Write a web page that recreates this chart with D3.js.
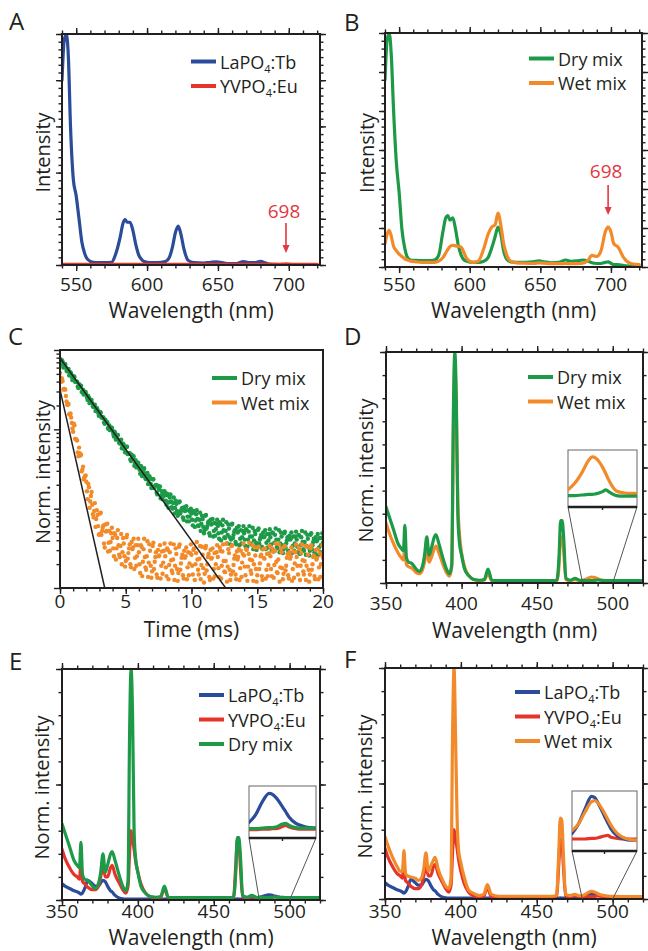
<!DOCTYPE html>
<html>
<head>
<meta charset="utf-8">
<script src="https://cdn.jsdelivr.net/npm/d3@7"></script>
<style>
  body { margin: 0; background: #fff; }
  text { font-family: 'Open Sans', sans-serif; fill: #231f20; }
</style>
</head>
<body>
<script>
// ---- data ----

// emission spectra (panels A, B), normalised intensity
const emWl = [540, 541.5, 543, 544.5, 546, 548, 550, 552, 554, 556,
  558, 562, 566, 570, 575, 578, 581, 583, 584.5, 586,
  588, 590, 592, 594, 596, 598, 602, 606, 610, 613,
  615.5, 618, 620, 622, 624, 626, 629, 633, 640, 645,
  649, 653, 658, 663, 668, 672, 676, 680, 684, 686.5,
  690, 693, 696, 698, 700, 702, 705, 709, 714, 720];
const tbEm = [0.8, 0.97, 1.0, 0.9, 0.6, 0.37, 0.3, 0.2, 0.1, 0.05,
  0.025, 0.012, 0.01, 0.01, 0.012, 0.05, 0.12, 0.18, 0.197, 0.185,
  0.185, 0.15, 0.09, 0.045, 0.025, 0.015, 0.01, 0.01, 0.012, 0.015,
  0.03, 0.08, 0.14, 0.168, 0.13, 0.07, 0.02, 0.01, 0.008, 0.012,
  0.014, 0.01, 0.006, 0.006, 0.015, 0.01, 0.01, 0.016, 0.008, 0.004,
  0.003, 0.002, 0.002, 0.002, 0.002, 0.002, 0.002, 0.002, 0.002, 0.002];
const euEm = [0.003, 0.003, 0.003, 0.003, 0.003, 0.003, 0.003, 0.003, 0.003, 0.003,
  0.003, 0.003, 0.003, 0.003, 0.003, 0.003, 0.003, 0.003, 0.003, 0.003,
  0.003, 0.003, 0.003, 0.003, 0.003, 0.003, 0.003, 0.003, 0.003, 0.003,
  0.003, 0.003, 0.003, 0.003, 0.003, 0.003, 0.003, 0.003, 0.003, 0.003,
  0.003, 0.003, 0.003, 0.003, 0.003, 0.003, 0.003, 0.003, 0.003, 0.003,
  0.003, 0.003, 0.004, 0.005, 0.004, 0.003, 0.003, 0.003, 0.003, 0.003];
const dryEm = [0.8, 0.97, 1.0, 0.9, 0.68, 0.45, 0.32, 0.16, 0.08, 0.04,
  0.03, 0.028, 0.027, 0.027, 0.03, 0.05, 0.15, 0.21, 0.22, 0.2,
  0.21, 0.16, 0.09, 0.05, 0.03, 0.025, 0.02, 0.02, 0.025, 0.04,
  0.08, 0.13, 0.17, 0.14, 0.07, 0.035, 0.022, 0.02, 0.02, 0.022,
  0.026, 0.022, 0.018, 0.02, 0.03, 0.024, 0.026, 0.03, 0.025, 0.018,
  0.015, 0.015, 0.02, 0.022, 0.016, 0.01, 0.01, 0.006, 0.004, 0.003];
const wetEm = [0.1, 0.14, 0.157, 0.13, 0.09, 0.07, 0.055, 0.045, 0.035, 0.03,
  0.025, 0.022, 0.02, 0.02, 0.02, 0.025, 0.04, 0.06, 0.075, 0.088,
  0.093, 0.09, 0.088, 0.085, 0.06, 0.035, 0.02, 0.025, 0.08, 0.14,
  0.17, 0.18, 0.23, 0.18, 0.1, 0.055, 0.025, 0.018, 0.016, 0.015,
  0.018, 0.016, 0.014, 0.014, 0.015, 0.014, 0.014, 0.016, 0.03, 0.05,
  0.045, 0.07, 0.15, 0.17, 0.15, 0.1, 0.085, 0.04, 0.015, 0.01];

// decay curves (panel C): log10 of normalised intensity.
// first set at 0, 0.1, 0.2 ... ms, second set at 0.05, 0.15 ... ms
const dryLog = [-0.11, -0.18, -0.15, -0.20, -0.18, -0.26, -0.26, -0.32, -0.28, -0.34,
  -0.37, -0.34, -0.40, -0.40, -0.48, -0.46, -0.45, -0.52, -0.56, -0.53,
  -0.56, -0.63, -0.60, -0.65, -0.63, -0.71, -0.71, -0.77, -0.73, -0.79,
  -0.82, -0.79, -0.85, -0.85, -0.93, -0.91, -0.91, -0.97, -1.01, -0.99,
  -1.02, -1.09, -1.05, -1.11, -1.07, -1.17, -1.16, -1.24, -1.18, -1.25,
  -1.29, -1.22, -1.31, -1.30, -1.40, -1.36, -1.34, -1.43, -1.48, -1.43,
  -1.46, -1.56, -1.48, -1.55, -1.49, -1.62, -1.59, -1.69, -1.59, -1.69,
  -1.73, -1.63, -1.72, -1.70, -1.82, -1.75, -1.72, -1.83, -1.88, -1.80,
  -1.83, -1.95, -1.83, -1.92, -1.82, -1.98, -1.93, -2.06, -1.90, -2.03,
  -2.07, -1.91, -2.03, -1.99, -2.14, -2.03, -1.97, -2.10, -2.16, -2.04,
  -2.06, -2.21, -2.05, -2.15, -2.02, -2.21, -2.14, -2.28, -2.09, -2.23,
  -2.27, -2.08, -2.22, -2.16, -2.34, -2.20, -2.13, -2.28, -2.34, -2.19,
  -2.22, -2.38, -2.19, -2.30, -2.14, -2.36, -2.28, -2.44, -2.20, -2.36,
  -2.39, -2.19, -2.33, -2.27, -2.45, -2.30, -2.22, -2.38, -2.44, -2.28,
  -2.31, -2.47, -2.27, -2.39, -2.22, -2.44, -2.35, -2.51, -2.28, -2.43,
  -2.46, -2.25, -2.39, -2.33, -2.51, -2.36, -2.27, -2.43, -2.49, -2.32,
  -2.36, -2.52, -2.31, -2.43, -2.25, -2.48, -2.39, -2.55, -2.30, -2.46,
  -2.51, -2.29, -2.44, -2.36, -2.56, -2.39, -2.30, -2.47, -2.53, -2.35,
  -2.39, -2.55, -2.34, -2.46, -2.28, -2.51, -2.42, -2.58, -2.33, -2.49,
  -2.53, -2.31, -2.46, -2.38, -2.58, -2.41, -2.32, -2.49, -2.55, -2.37,
  -2.43];
const dryLog2 = [-0.15, -0.13, -0.22, -0.18, -0.22, -0.27, -0.24, -0.30, -0.30, -0.38,
  -0.33, -0.40, -0.40, -0.46, -0.43, -0.46, -0.53, -0.50, -0.55, -0.53,
  -0.60, -0.58, -0.67, -0.63, -0.67, -0.72, -0.69, -0.75, -0.75, -0.83,
  -0.78, -0.85, -0.85, -0.91, -0.88, -0.91, -0.99, -0.95, -1.00, -0.98,
  -1.06, -1.03, -1.13, -1.08, -1.13, -1.18, -1.13, -1.21, -1.20, -1.29,
  -1.22, -1.31, -1.30, -1.38, -1.32, -1.36, -1.46, -1.39, -1.45, -1.42,
  -1.51, -1.46, -1.59, -1.52, -1.56, -1.63, -1.55, -1.64, -1.62, -1.74,
  -1.63, -1.74, -1.71, -1.80, -1.71, -1.76, -1.87, -1.78, -1.84, -1.78,
  -1.90, -1.81, -1.99, -1.86, -1.91, -2.00, -1.86, -1.99, -1.94, -2.09,
  -1.92, -2.06, -2.00, -2.11, -1.98, -2.02, -2.16, -2.02, -2.10, -2.00,
  -2.14, -2.03, -2.23, -2.07, -2.13, -2.22, -2.05, -2.19, -2.13, -2.31,
  -2.09, -2.25, -2.18, -2.31, -2.14, -2.19, -2.35, -2.18, -2.26, -2.14,
  -2.31, -2.17, -2.40, -2.21, -2.27, -2.37, -2.17, -2.33, -2.25, -2.45,
  -2.20, -2.37, -2.29, -2.42, -2.24, -2.29, -2.46, -2.27, -2.36, -2.22,
  -2.39, -2.26, -2.48, -2.29, -2.35, -2.45, -2.24, -2.40, -2.32, -2.52,
  -2.27, -2.44, -2.36, -2.48, -2.30, -2.35, -2.51, -2.32, -2.40, -2.26,
  -2.45, -2.30, -2.54, -2.33, -2.39, -2.50, -2.27, -2.44, -2.35, -2.56,
  -2.31, -2.49, -2.40, -2.53, -2.34, -2.38, -2.56, -2.35, -2.44, -2.29,
  -2.48, -2.33, -2.57, -2.36, -2.42, -2.53, -2.30, -2.47, -2.38, -2.59,
  -2.33, -2.51, -2.42, -2.55, -2.36, -2.40, -2.58, -2.37, -2.46, -2.31];
const wetLog = [-0.29, -0.40, -0.39, -0.49, -0.50, -0.65, -0.69, -0.81, -0.80, -0.92,
  -1.03, -0.95, -1.12, -1.14, -1.34, -1.30, -1.32, -1.51, -1.63, -1.59,
  -1.66, -1.88, -1.73, -1.91, -1.79, -2.07, -2.03, -2.23, -2.02, -2.22,
  -2.32, -2.05, -2.28, -2.21, -2.49, -2.29, -2.19, -2.43, -2.53, -2.31,
  -2.37, -2.60, -2.33, -2.50, -2.27, -2.58, -2.47, -2.70, -2.37, -2.60,
  -2.66, -2.33, -2.56, -2.45, -2.74, -2.51, -2.38, -2.62, -2.72, -2.46,
  -2.55, -2.81, -2.48, -2.67, -2.38, -2.74, -2.60, -2.86, -2.45, -2.72,
  -2.79, -2.43, -2.67, -2.55, -2.87, -2.60, -2.46, -2.72, -2.82, -2.53,
  -2.60, -2.85, -2.52, -2.71, -2.44, -2.78, -2.64, -2.90, -2.50, -2.76,
  -2.81, -2.45, -2.69, -2.58, -2.88, -2.62, -2.49, -2.74, -2.84, -2.56,
  -2.58, -2.83, -2.50, -2.70, -2.42, -2.77, -2.63, -2.89, -2.48, -2.75,
  -2.82, -2.47, -2.70, -2.57, -2.90, -2.63, -2.50, -2.76, -2.85, -2.55,
  -2.61, -2.86, -2.53, -2.72, -2.45, -2.79, -2.66, -2.92, -2.51, -2.77,
  -2.83, -2.46, -2.71, -2.59, -2.89, -2.64, -2.51, -2.75, -2.86, -2.57,
  -2.59, -2.84, -2.52, -2.73, -2.43, -2.78, -2.65, -2.91, -2.49, -2.76,
  -2.84, -2.48, -2.69, -2.58, -2.90, -2.62, -2.50, -2.77, -2.85, -2.56,
  -2.60, -2.85, -2.54, -2.71, -2.44, -2.80, -2.64, -2.92, -2.50, -2.75,
  -2.82, -2.47, -2.72, -2.57, -2.88, -2.63, -2.49, -2.76, -2.87, -2.55,
  -2.61, -2.83, -2.51, -2.72, -2.45, -2.79, -2.66, -2.90, -2.48, -2.77,
  -2.83, -2.46, -2.70, -2.59, -2.89, -2.64, -2.51, -2.74, -2.86, -2.58,
  -2.62];
const wetLog2 = [-0.35, -0.36, -0.50, -0.49, -0.58, -0.69, -0.68, -0.81, -0.85, -0.99,
  -0.93, -1.12, -1.13, -1.29, -1.23, -1.33, -1.53, -1.47, -1.61, -1.58,
  -1.78, -1.69, -1.99, -1.84, -1.95, -2.11, -1.93, -2.13, -2.08, -2.33,
  -2.06, -2.33, -2.24, -2.44, -2.20, -2.28, -2.54, -2.28, -2.42, -2.24,
  -2.50, -2.31, -2.64, -2.37, -2.46, -2.61, -2.32, -2.55, -2.44, -2.73,
  -2.36, -2.63, -2.50, -2.70, -2.42, -2.49, -2.76, -2.46, -2.60, -2.38,
  -2.70, -2.46, -2.85, -2.51, -2.61, -2.77, -2.41, -2.68, -2.53, -2.87,
  -2.47, -2.76, -2.61, -2.83, -2.52, -2.59, -2.88, -2.54, -2.68, -2.44,
  -2.74, -2.50, -2.89, -2.55, -2.65, -2.81, -2.45, -2.72, -2.57, -2.91,
  -2.48, -2.77, -2.62, -2.84, -2.53, -2.60, -2.89, -2.55, -2.69, -2.45,
  -2.72, -2.52, -2.90, -2.56, -2.64, -2.83, -2.47, -2.71, -2.58, -2.93,
  -2.50, -2.78, -2.61, -2.86, -2.52, -2.62, -2.88, -2.56, -2.70, -2.46,
  -2.75, -2.49, -2.88, -2.54, -2.66, -2.80, -2.44, -2.73, -2.56, -2.90,
  -2.47, -2.79, -2.63, -2.83, -2.54, -2.61, -2.90, -2.53, -2.68, -2.44,
  -2.73, -2.51, -2.91, -2.57, -2.64, -2.82, -2.46, -2.70, -2.59, -2.92,
  -2.49, -2.76, -2.60, -2.85, -2.51, -2.63, -2.88, -2.57, -2.71, -2.47,
  -2.76, -2.50, -2.87, -2.53, -2.67, -2.81, -2.45, -2.74, -2.55, -2.89,
  -2.48, -2.78, -2.62, -2.84, -2.55, -2.60, -2.91, -2.54, -2.69, -2.45,
  -2.72, -2.49, -2.90, -2.56, -2.65, -2.83, -2.47, -2.72, -2.58, -2.92,
  -2.50, -2.77, -2.61, -2.85, -2.52, -2.62, -2.89, -2.56, -2.70, -2.46];
const decayTime = d3.range(0, dryLog.length).map(i => i / 10);
const decayTime2 = d3.range(0, dryLog2.length).map(i => i / 10 + 0.05);
// single-exponential fits: [time, log10 intensity] end points
const dryFit = [[0, -0.1], [12.6, -3]];
const wetFit = [[0, -0.5], [3.4, -3]];

// excitation spectra (panels D, E, F)
const excWl = [350, 352, 355, 358, 360, 361.5, 362.5, 363.5, 365, 367,
  370, 372, 374, 375.5, 377, 378.5, 380, 382, 383, 385,
  388, 390, 392, 393.5, 394.5, 395.5, 396.5, 397.5, 398.5, 400,
  402, 405, 408, 412, 415, 417.5, 420, 425, 430, 440,
  450, 455, 460, 463, 464.5, 465.5, 466.5, 467.5, 469, 472,
  475, 478, 480, 482, 484, 486, 488, 490, 492, 494,
  496, 498, 500, 510, 520];
const dryExc = [0.33, 0.29, 0.23, 0.17, 0.15, 0.14, 0.25, 0.11, 0.09, 0.085,
  0.06, 0.05, 0.07, 0.12, 0.2, 0.12, 0.15, 0.2, 0.21, 0.17,
  0.1, 0.06, 0.04, 0.08, 0.7, 1.0, 0.8, 0.3, 0.18, 0.12,
  0.06, 0.03, 0.015, 0.012, 0.015, 0.06, 0.012, 0.01, 0.01, 0.01,
  0.01, 0.01, 0.01, 0.012, 0.12, 0.27, 0.27, 0.2, 0.02, 0.012,
  0.02, 0.012, 0.01, 0.01, 0.01, 0.01, 0.011, 0.013, 0.012, 0.01,
  0.01, 0.01, 0.01, 0.01, 0.01];
const wetExcD = [0.26, 0.22, 0.17, 0.13, 0.11, 0.1, 0.16, 0.08, 0.07, 0.065,
  0.045, 0.04, 0.055, 0.09, 0.14, 0.09, 0.11, 0.15, 0.16, 0.13,
  0.075, 0.045, 0.03, 0.07, 0.6, 0.95, 0.75, 0.35, 0.22, 0.13,
  0.07, 0.03, 0.015, 0.01, 0.012, 0.04, 0.01, 0.01, 0.01, 0.01,
  0.01, 0.01, 0.01, 0.01, 0.08, 0.2, 0.2, 0.14, 0.015, 0.01,
  0.015, 0.01, 0.012, 0.016, 0.022, 0.026, 0.024, 0.018, 0.013, 0.011,
  0.01, 0.01, 0.01, 0.01, 0.01];
const wetExcF = [0.27, 0.23, 0.18, 0.14, 0.12, 0.12, 0.21, 0.11, 0.1, 0.095,
  0.09, 0.08, 0.09, 0.13, 0.2, 0.12, 0.14, 0.17, 0.18, 0.13,
  0.08, 0.055, 0.045, 0.09, 0.7, 1.0, 0.7, 0.35, 0.21, 0.156,
  0.1, 0.04, 0.025, 0.015, 0.02, 0.062, 0.02, 0.012, 0.012, 0.012,
  0.012, 0.012, 0.012, 0.015, 0.2, 0.35, 0.34, 0.2, 0.02, 0.015,
  0.02, 0.014, 0.015, 0.02, 0.028, 0.033, 0.03, 0.024, 0.018, 0.015,
  0.013, 0.012, 0.011, 0.01, 0.01];
const euExc = [0.22, 0.18, 0.14, 0.11, 0.1, 0.09, 0.16, 0.08, 0.07, 0.055,
  0.045, 0.045, 0.06, 0.1, 0.15, 0.1, 0.1, 0.14, 0.15, 0.11,
  0.07, 0.045, 0.03, 0.06, 0.2, 0.3, 0.26, 0.22, 0.17, 0.12,
  0.07, 0.03, 0.015, 0.01, 0.012, 0.05, 0.01, 0.01, 0.01, 0.01,
  0.01, 0.01, 0.01, 0.01, 0.15, 0.26, 0.25, 0.15, 0.015, 0.01,
  0.015, 0.01, 0.01, 0.01, 0.01, 0.01, 0.011, 0.013, 0.012, 0.01,
  0.01, 0.01, 0.01, 0.01, 0.01];
const tbExc = [0.07, 0.06, 0.05, 0.04, 0.035, 0.03, 0.025, 0.03, 0.05, 0.085,
  0.07, 0.06, 0.06, 0.075, 0.085, 0.08, 0.06, 0.04, 0.035, 0.02,
  0.008, 0.005, 0.004, 0.004, 0.004, 0.004, 0.004, 0.004, 0.004, 0.004,
  0.004, 0.004, 0.004, 0.004, 0.004, 0.004, 0.004, 0.004, 0.004, 0.004,
  0.004, 0.004, 0.004, 0.004, 0.004, 0.005, 0.004, 0.004, 0.004, 0.004,
  0.004, 0.008, 0.012, 0.015, 0.019, 0.022, 0.021, 0.017, 0.014, 0.012,
  0.011, 0.01, 0.01, 0.006, 0.004];

// magnified 480-500 nm insets (fraction of inset height)
const insetWl = [480, 482, 484, 486, 487, 488, 490, 491, 492, 494, 496, 498, 500];
const insetDWet = [0.3, 0.42, 0.6, 0.82, 0.88, 0.86, 0.7, 0.58, 0.45, 0.28, 0.25, 0.24, 0.24];
const insetDDry = [0.2, 0.2, 0.21, 0.22, 0.22, 0.23, 0.27, 0.3, 0.26, 0.2, 0.19, 0.19, 0.19];
const insetETb = [0.3, 0.45, 0.7, 0.86, 0.84, 0.78, 0.6, 0.5, 0.4, 0.28, 0.23, 0.2, 0.19];
const insetEEu = [0.16, 0.16, 0.17, 0.17, 0.18, 0.18, 0.22, 0.24, 0.21, 0.18, 0.17, 0.17, 0.17];
const insetEDry = [0.18, 0.18, 0.19, 0.2, 0.2, 0.21, 0.27, 0.28, 0.24, 0.2, 0.19, 0.19, 0.19];
const insetFTb = [0.29, 0.45, 0.7, 0.91, 0.89, 0.8, 0.58, 0.47, 0.37, 0.25, 0.2, 0.18, 0.18];
const insetFEu = [0.2, 0.2, 0.2, 0.21, 0.21, 0.22, 0.25, 0.26, 0.23, 0.21, 0.2, 0.2, 0.2];
const insetFWet = [0.34, 0.45, 0.65, 0.82, 0.84, 0.8, 0.63, 0.53, 0.43, 0.29, 0.22, 0.19, 0.18];

const names = {
  tb: ['LaPO', '4', ':Tb'],
  eu: ['YVPO', '4', ':Eu'],
  dry: ['Dry mix'],
  wet: ['Wet mix'],
};

// ---- drawing ----
const INK = '#231f20';
const col = { tb: '#2b4b9b', eu: '#e5352b', dry: '#1c9a48', wet: '#f28a2a' };
const LW = 3.2;

const svg = d3.select('body').append('svg').attr('width', 648).attr('height', 951);

function makePanel(p) {
  const x = d3.scaleLinear().domain(p.xDomain).range([p.left, p.left + p.width]);
  const y = (p.log ? d3.scaleLog() : d3.scaleLinear())
    .domain(p.yDomain).range([p.top + p.height, p.top]);
  const g = svg.append('g');
  const clipId = 'clip' + p.letter;
  svg.append('clipPath').attr('id', clipId)
    .append('rect')
    .attr('x', p.left).attr('y', p.top)
    .attr('width', p.width).attr('height', p.height);
  const plot = g.append('g').attr('clip-path', `url(#${clipId})`);
  return { p, x, y, g, plot };
}

function tickSet(g, orient, scale, values, size, tx, ty) {
  const make = { bottom: d3.axisBottom, top: d3.axisTop, left: d3.axisLeft, right: d3.axisRight }[orient];
  const sel = g.append('g')
    .attr('transform', `translate(${tx},${ty})`)
    .call(make(scale).tickValues(values).tickSize(size).tickFormat(''));
  sel.select('.domain').remove();
  sel.selectAll('.tick line').attr('stroke', INK).attr('stroke-width', 1.4);
}

function axes(P, o) {
  const { p, x, y, g } = P;
  const bottom = p.top + p.height;
  const right = p.left + p.width;
  tickSet(g, 'bottom', x, o.xMinor, 3.5, 0, bottom);
  tickSet(g, 'bottom', x, o.xMajor, 6, 0, bottom);
  tickSet(g, 'left', y, o.yMinor, 3.5, p.left, 0);
  tickSet(g, 'left', y, o.yMajor, 6, p.left, 0);
  if (o.mirror) {
    tickSet(g, 'top', x, o.xMinor, 3.5, 0, p.top);
    tickSet(g, 'top', x, o.xMajor, 6, 0, p.top);
    tickSet(g, 'right', y, o.yMinor, 3.5, right, 0);
    tickSet(g, 'right', y, o.yMajor, 6, right, 0);
  }
  g.append('rect')
    .attr('x', p.left).attr('y', p.top)
    .attr('width', p.width).attr('height', p.height)
    .attr('fill', 'none').attr('stroke', INK).attr('stroke-width', 2);

  g.selectAll('.xlab').data(o.xLabels).join('text')
    .attr('x', d => x(d)).attr('y', bottom + o.labelGap)
    .attr('text-anchor', 'middle').attr('font-size', 19)
    .text(d => d);

  g.append('text')
    .attr('x', p.left + p.width / 2).attr('y', o.titleY)
    .attr('text-anchor', 'middle').attr('font-size', 21)
    .text(o.xTitle);
  g.append('text')
    .attr('transform', `translate(${o.yTitleX},${p.top + p.height / 2 + 3}) rotate(-90)`)
    .attr('text-anchor', 'middle').attr('dominant-baseline', 'central')
    .attr('font-size', 20)
    .text(o.yTitle);
  g.append('text')
    .attr('x', o.letterPos[0]).attr('y', o.letterPos[1])
    .attr('font-size', 24)
    .text(p.letter);
}

function spectrum(parent, x, y, xs, ys, color) {
  parent.append('path')
    .datum(ys)
    .attr('d', d3.line().x((d, i) => x(xs[i])).y(d => y(d)).curve(d3.curveMonotoneX))
    .attr('fill', 'none').attr('stroke', color).attr('stroke-width', LW)
    .attr('stroke-linejoin', 'round').attr('stroke-linecap', 'round');
}

function legend(g, x0, y0, keys) {
  keys.forEach((k, i) => {
    const yy = y0 + i * 24.5;
    g.append('line')
      .attr('x1', x0).attr('x2', x0 + 25).attr('y1', yy).attr('y2', yy)
      .attr('stroke', col[k]).attr('stroke-width', 4);
    const t = g.append('text').attr('x', x0 + 29).attr('y', yy + 7).attr('font-size', 18);
    names[k].forEach((part, j) => {
      const sub = j % 2 === 1;
      t.append('tspan')
        .attr('font-size', sub ? 11 : 18)
        .attr('dy', sub ? 4 : (j > 0 ? -4 : 0))
        .text(part);
    });
  });
}

function arrow698(g, x, yText, y1, y2) {
  const red = '#e2383f';
  g.append('text').attr('x', x - 2).attr('y', yText)
    .attr('text-anchor', 'middle').attr('font-size', 19)
    .style('fill', red).text('698');
  g.append('line').attr('x1', x).attr('x2', x).attr('y1', y1).attr('y2', y2 - 6)
    .attr('stroke', red).attr('stroke-width', 1.6);
  g.append('path')
    .attr('d', `M${x - 3.5},${y2 - 8}L${x + 3.5},${y2 - 8}L${x},${y2}Z`)
    .attr('fill', red);
}

function inset(P, box, series) {
  const { x, g, p } = P;
  const mainBottom = p.top + p.height;
  const bottom = box.y + box.h;
  const ix = d3.scaleLinear().domain([480, 500]).range([box.x, box.x + box.w]);
  const iy = d3.scaleLinear().domain([0, 1]).range([bottom, box.y]);
  g.append('line').attr('x1', box.x).attr('y1', bottom).attr('x2', x(480)).attr('y2', mainBottom)
    .attr('stroke', '#555').attr('stroke-width', 1);
  g.append('line').attr('x1', box.x + box.w).attr('y1', bottom).attr('x2', x(500)).attr('y2', mainBottom)
    .attr('stroke', '#555').attr('stroke-width', 1);
  g.append('rect').attr('x', box.x).attr('y', box.y).attr('width', box.w).attr('height', box.h)
    .attr('fill', '#fff').attr('stroke', '#666').attr('stroke-width', 1);
  const clipId = 'inset' + p.letter;
  svg.append('clipPath').attr('id', clipId).append('rect')
    .attr('x', box.x).attr('y', box.y).attr('width', box.w).attr('height', box.h);
  const ig = g.append('g').attr('clip-path', `url(#${clipId})`);
  series.forEach(s => spectrum(ig, ix, iy, insetWl, s.values, col[s.key]));
  g.append('line').attr('x1', box.x).attr('x2', box.x + box.w).attr('y1', bottom).attr('y2', bottom)
    .attr('stroke', INK).attr('stroke-width', 2.5);
  g.append('line').attr('x1', ix(490)).attr('x2', ix(490)).attr('y1', bottom).attr('y2', bottom + 3)
    .attr('stroke', INK).attr('stroke-width', 1.4);
}

function dots(P, times, logs, color) {
  P.plot.append('g').selectAll('circle').data(logs).join('circle')
    .attr('cx', (d, i) => P.x(times[i])).attr('cy', d => P.y(10 ** d))
    .attr('r', 2.2).attr('fill', color);
}

// tick sets
const emMinor = d3.range(540, 721, 10);
const emMajor = [550, 600, 650, 700];
const excMinor = d3.range(350, 521, 10);
const excMajor = [350, 400, 450, 500];
const yMinor30 = d3.range(0, 31).map(i => i / 30);
const excYMinor = d3.range(0, 11).map(i => i / 10);

// ---- A ----
const A = makePanel({ letter: 'A', left: 62, top: 34, width: 258, height: 231, xDomain: [540, 722], yDomain: [0, 1] });
spectrum(A.plot, A.x, A.y, emWl, tbEm, col.tb);
spectrum(A.plot, A.x, A.y, emWl, euEm, col.eu);
axes(A, {
  xMinor: emMinor, xMajor: emMajor, yMinor: yMinor30, yMajor: [0, 0.2, 0.4, 0.6, 0.8, 1],
  mirror: true, xLabels: emMajor, labelGap: 26, xTitle: 'Wavelength (nm)', titleY: 318,
  yTitle: 'Intensity', yTitleX: 42, letterPos: [9, 30],
});
legend(A.g, 191, 61.5, ['tb', 'eu']);
arrow698(A.g, A.x(698), 218, 223, 253);

// ---- B ----
const B = makePanel({ letter: 'B', left: 385, top: 33, width: 257, height: 234, xDomain: [540, 722], yDomain: [0, 1] });
spectrum(B.plot, B.x, B.y, emWl, dryEm, col.dry);
spectrum(B.plot, B.x, B.y, emWl, wetEm, col.wet);
axes(B, {
  xMinor: emMinor, xMajor: emMajor, yMinor: yMinor30, yMajor: d3.range(0, 7).map(i => i / 6),
  mirror: true, xLabels: emMajor, labelGap: 24, xTitle: 'Wavelength (nm)', titleY: 318,
  yTitle: 'Intensity', yTitleX: 366, letterPos: [344, 31],
});
legend(B.g, 529, 58.5, ['dry', 'wet']);
arrow698(B.g, B.x(698), 178, 185, 215);

// ---- C ----
const C = makePanel({ letter: 'C', left: 60, top: 350, width: 263, height: 238, xDomain: [0, 20], yDomain: [0.001, 1], log: true });
const decades = [0.001, 0.01, 0.1, 1];
const logMinor = [0.001, 0.01, 0.1].flatMap(d => d3.range(2, 10).map(k => k * d));
dots(C, decayTime, dryLog, col.dry);
dots(C, decayTime2, dryLog2, col.dry);
dots(C, decayTime, wetLog, col.wet);
dots(C, decayTime2, wetLog2, col.wet);
[dryFit, wetFit].forEach(f => {
  C.plot.append('line')
    .attr('x1', C.x(f[0][0])).attr('y1', C.y(10 ** f[0][1]))
    .attr('x2', C.x(f[1][0])).attr('y2', C.y(10 ** f[1][1]))
    .attr('stroke', INK).attr('stroke-width', 1.5);
});
axes(C, {
  xMinor: d3.range(0, 21), xMajor: [0, 5, 10, 15, 20], yMinor: logMinor, yMajor: decades,
  mirror: false, xLabels: [0, 5, 10, 15, 20], labelGap: 20, xTitle: 'Time (ms)', titleY: 637,
  yTitle: 'Norm. intensity', yTitleX: 42, letterPos: [8, 345],
});
legend(C.g, 212, 378, ['dry', 'wet']);

// ---- D ----
const D = makePanel({ letter: 'D', left: 386, top: 352, width: 257, height: 231, xDomain: [350, 520], yDomain: [0, 1] });
spectrum(D.plot, D.x, D.y, excWl, wetExcD, col.wet);
spectrum(D.plot, D.x, D.y, excWl, dryExc, col.dry);
axes(D, {
  xMinor: excMinor, xMajor: excMajor, yMinor: excYMinor, yMajor: [0, 0.5, 1],
  mirror: true, xLabels: excMajor, labelGap: 27, xTitle: 'Wavelength (nm)', titleY: 638,
  yTitle: 'Norm. intensity', yTitleX: 365, letterPos: [344, 345],
});
legend(D.g, 528, 377, ['dry', 'wet']);
inset(D, { x: 568, y: 450, w: 69, h: 57 }, [
  { key: 'wet', values: insetDWet }, { key: 'dry', values: insetDDry }]);

// ---- E ----
const E = makePanel({ letter: 'E', left: 62, top: 669, width: 258, height: 231, xDomain: [350, 520], yDomain: [0, 1] });
spectrum(E.plot, E.x, E.y, excWl, tbExc, col.tb);
spectrum(E.plot, E.x, E.y, excWl, euExc, col.eu);
spectrum(E.plot, E.x, E.y, excWl, dryExc, col.dry);
axes(E, {
  xMinor: excMinor, xMajor: excMajor, yMinor: excYMinor, yMajor: [0, 0.5, 1],
  mirror: true, xLabels: excMajor, labelGap: 18, xTitle: 'Wavelength (nm)', titleY: 945,
  yTitle: 'Norm. intensity', yTitleX: 41, letterPos: [9, 670],
});
legend(E.g, 199, 695, ['tb', 'eu', 'dry']);
inset(E, { x: 249, y: 786, w: 67, h: 52 }, [
  { key: 'tb', values: insetETb }, { key: 'eu', values: insetEEu }, { key: 'dry', values: insetEDry }]);

// ---- F ----
const F = makePanel({ letter: 'F', left: 385, top: 668, width: 258, height: 231, xDomain: [350, 520], yDomain: [0, 1] });
spectrum(F.plot, F.x, F.y, excWl, tbExc, col.tb);
spectrum(F.plot, F.x, F.y, excWl, euExc, col.eu);
spectrum(F.plot, F.x, F.y, excWl, wetExcF, col.wet);
axes(F, {
  xMinor: excMinor, xMajor: excMajor, yMinor: excYMinor, yMajor: [0, 0.5, 1],
  mirror: true, xLabels: excMajor, labelGap: 19, xTitle: 'Wavelength (nm)', titleY: 945,
  yTitle: 'Norm. intensity', yTitleX: 364, letterPos: [344, 668],
});
legend(F.g, 515, 692, ['tb', 'eu', 'wet']);
inset(F, { x: 572, y: 791, w: 65, h: 60 }, [
  { key: 'eu', values: insetFEu }, { key: 'tb', values: insetFTb }, { key: 'wet', values: insetFWet }]);
</script>
</body>
</html>
